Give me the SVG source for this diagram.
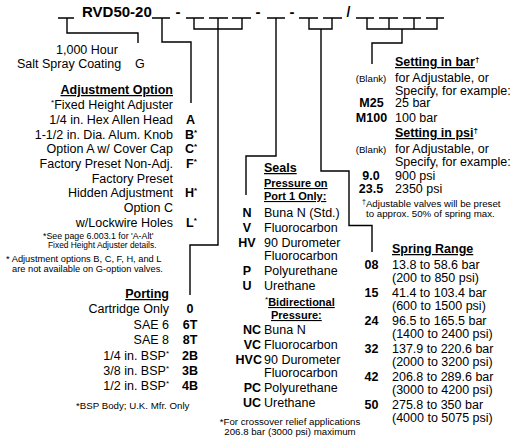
<svg xmlns="http://www.w3.org/2000/svg" width="519" height="441" viewBox="0 0 519 441">
<style>
text{font-family:"Liberation Sans",Arial,Helvetica,sans-serif;fill:#000;font-size:12.5px}
.b{font-weight:bold}
.u{text-decoration:underline}
.h2{font-size:11px;font-weight:bold}
.s{font-size:9.7px}
.e{text-anchor:end}
.m{text-anchor:middle}
.sup{font-size:8px}
.ln{fill:none;stroke:#000;stroke-width:1.4}
.us{fill:none;stroke:#000;stroke-width:1.5}
</style>
<rect width="519" height="441" fill="#fff"/>

<g id="part-number">
  <text x="82" y="17" class="b" style="font-size:15px">RVD50-20</text>
  <text x="178" y="17" class="b m" style="font-size:15px">-</text>
  <text x="258" y="17" class="b m" style="font-size:15px">-</text>
  <text x="292" y="17" class="b m" style="font-size:15px">-</text>
  <text x="348.5" y="17" class="b m" style="font-size:14px">/</text>
  <path class="us" d="M58,18H74M152,18H170M186,18H204M209,18H228M232,18H251M267,18H285M299,18H318M323,18H342M356,18H374M379,18H398M403,18H421M426,18H444"/>
</g>

<g id="connectors">
  <path class="ln" d="M67,18V33H138V43"/>
  <path class="ln" d="M162,18V42H191V103"/>
  <path class="ln" d="M194,18V29H242V18M218,18V245H190V295"/>
  <path class="ln" d="M276,18V156H246V195"/>
  <path class="ln" d="M309,18V29H332V18M321,29V171H349V225.5H372V252"/>
  <path class="ln" d="M367,18V29H437V18M389,18V29M414,18V29M402,29V43H372V64"/>
</g>

<g id="coating">
  <text x="56" y="54">1,000 Hour</text>
  <text x="17" y="68">Salt Spray Coating</text>
  <text x="135" y="68">G</text>
</g>

<g id="adjustment-option">
  <text x="173" y="94" class="b e u">Adjustment Option</text>
  <text x="173" y="109" class="e"><tspan class="sup" dy="-4">*</tspan><tspan dy="4">Fixed Height Adjuster</tspan></text>
  <text x="173" y="124" class="e">1/4 in. Hex Allen Head</text>
  <text x="173" y="138.6" class="e">1-1/2 in. Dia. Alum. Knob</text>
  <text x="173" y="153.3" class="e">Option A w/ Cover Cap</text>
  <text x="173" y="168" class="e">Factory Preset Non-Adj.</text>
  <text x="173" y="182.7" class="e">Factory Preset</text>
  <text x="173" y="197.4" class="e">Hidden Adjustment</text>
  <text x="173" y="212" class="e">Option C</text>
  <text x="173" y="226.8" class="e">w/Lockwire Holes</text>
  <text x="186" y="124" class="b">A</text>
  <text x="185" y="138.6" class="b">B<tspan class="sup" dy="-4">*</tspan></text>
  <text x="185" y="153.3" class="b">C<tspan class="sup" dy="-4">*</tspan></text>
  <text x="186" y="168" class="b">F<tspan class="sup" dy="-4">*</tspan></text>
  <text x="185" y="197.4" class="b">H<tspan class="sup" dy="-4">*</tspan></text>
  <text x="186" y="226.8" class="b">L<tspan class="sup" dy="-4">*</tspan></text>
  <text x="43" y="238.5" style="font-size:8.8px">*See page 6.003.1 for 'A-Alt'</text>
  <text x="48" y="248" style="font-size:8.4px">Fixed Height Adjuster details.</text>
  <text x="6" y="262" style="font-size:9.3px">* Adjustment options B, C, F, H, and L</text>
  <text x="12" y="272" style="font-size:9.3px">are not available on G-option valves.</text>
</g>

<g id="porting">
  <text x="169" y="298" class="b e u">Porting</text>
  <text x="169" y="313.3" class="e">Cartridge Only</text>
  <text x="169" y="328.7" class="e">SAE 6</text>
  <text x="169" y="344.1" class="e">SAE 8</text>
  <text x="169" y="359.5" class="e">1/4 in. BSP<tspan class="sup" dy="-4">*</tspan></text>
  <text x="169" y="374.9" class="e">3/8 in. BSP<tspan class="sup" dy="-4">*</tspan></text>
  <text x="169" y="390.3" class="e">1/2 in. BSP<tspan class="sup" dy="-4">*</tspan></text>
  <text x="190" y="313.3" class="b m">0</text>
  <text x="190" y="328.7" class="b m">6T</text>
  <text x="190" y="344.1" class="b m">8T</text>
  <text x="190" y="359.5" class="b m">2B</text>
  <text x="190" y="374.9" class="b m">3B</text>
  <text x="190" y="390.3" class="b m">4B</text>
  <text x="76" y="409" class="s">*BSP Body; U.K. Mfr. Only</text>
</g>

<g id="seals">
  <text x="264" y="172" class="b u">Seals</text>
  <text x="264" y="187" class="h2 u">Pressure on</text>
  <text x="264" y="200" class="h2 u">Port 1 Only:</text>
  <text x="247" y="217" class="b m">N</text><text x="264" y="217">Buna N (Std.)</text>
  <text x="247" y="232" class="b m">V</text><text x="264" y="232">Fluorocarbon</text>
  <text x="247" y="246.5" class="b m">HV</text><text x="264" y="246.5">90 Durometer</text>
  <text x="264" y="259.5">Fluorocarbon</text>
  <text x="247" y="275" class="b m">P</text><text x="264" y="275">Polyurethane</text>
  <text x="247" y="290" class="b m">U</text><text x="264" y="290">Urethane</text>
  <text x="265" y="306" class="h2"><tspan class="sup" dy="-4" style="font-weight:normal">*</tspan><tspan dy="4" class="u">Bidirectional</tspan></text>
  <text x="271" y="319" class="h2 u">Pressure:</text>
  <text x="261" y="334" class="b e">NC</text><text x="264" y="334">Buna N</text>
  <text x="261" y="349" class="b e">VC</text><text x="264" y="349">Fluorocarbon</text>
  <text x="262" y="363.5" class="b e">HVC</text><text x="264" y="363.5">90 Durometer</text>
  <text x="264" y="377">Fluorocarbon</text>
  <text x="261" y="392" class="b e">PC</text><text x="264" y="392">Polyurethane</text>
  <text x="261" y="407" class="b e">UC</text><text x="264" y="407">Urethane</text>
  <text x="290" y="425" class="s m">*For crossover relief applications</text>
  <text x="290" y="435" class="s m">206.8 bar (3000 psi) maximum</text>
</g>

<g id="setting">
  <text x="395" y="66" class="b"><tspan class="u">Setting in bar</tspan><tspan class="sup" dy="-4">†</tspan></text>
  <text x="371" y="82" class="s m">(Blank)</text>
  <text x="395" y="82">for Adjustable, or</text>
  <text x="395" y="94.5">Specify, for example:</text>
  <text x="371.5" y="107" class="b m">M25</text><text x="395" y="107">25 bar</text>
  <text x="371.5" y="122" class="b m">M100</text><text x="395" y="122">100 bar</text>
  <text x="395" y="137" class="b"><tspan class="u">Setting in psi</tspan><tspan class="sup" dy="-4">†</tspan></text>
  <text x="371" y="153" class="s m">(Blank)</text>
  <text x="395" y="153">for Adjustable, or</text>
  <text x="395" y="165.5">Specify, for example:</text>
  <text x="371" y="180" class="b m">9.0</text><text x="395" y="180">900 psi</text>
  <text x="371" y="193" class="b m">23.5</text><text x="395" y="193">2350 psi</text>
  <text x="362" y="207" class="s"><tspan class="sup" dy="-3" style="font-size:7px">†</tspan><tspan dy="3">Adjustable valves will be preset</tspan></text>
  <text x="366" y="217" class="s">to approx. 50% of spring max.</text>
</g>

<g id="spring-range">
  <text x="392" y="253" class="b u">Spring Range</text>
  <text x="371.5" y="269" class="b m">08</text><text x="392" y="269">13.8 to 58.6 bar</text><text x="392" y="281.5">(200 to 850 psi)</text>
  <text x="371.5" y="297" class="b m">15</text><text x="392" y="297">41.4 to 103.4 bar</text><text x="392" y="309.5">(600 to 1500 psi)</text>
  <text x="371.5" y="325" class="b m">24</text><text x="392" y="325">96.5 to 165.5 bar</text><text x="392" y="337.5">(1400 to 2400 psi)</text>
  <text x="371.5" y="353" class="b m">32</text><text x="392" y="353">137.9 to 220.6 bar</text><text x="392" y="365.5">(2000 to 3200 psi)</text>
  <text x="371.5" y="381" class="b m">42</text><text x="392" y="381">206.8 to 289.6 bar</text><text x="392" y="393.5">(3000 to 4200 psi)</text>
  <text x="371.5" y="409" class="b m">50</text><text x="392" y="409">275.8 to 350 bar</text><text x="392" y="421.5">(4000 to 5075 psi)</text>
</g>
</svg>
